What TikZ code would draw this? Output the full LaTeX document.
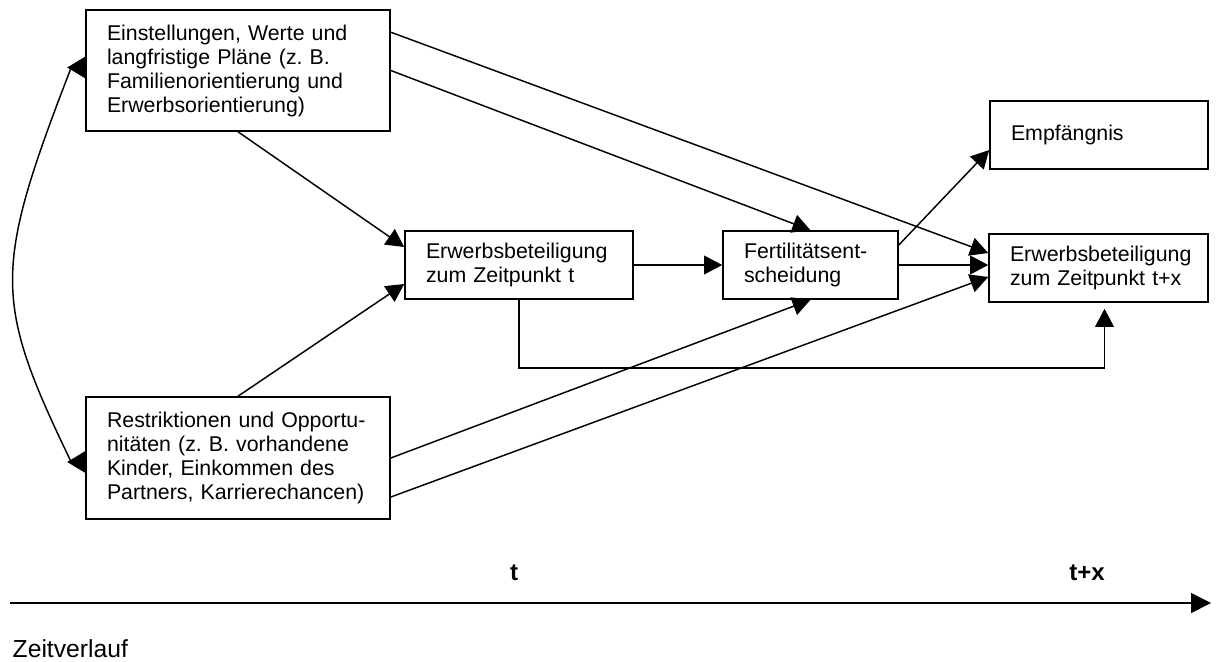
\documentclass[tikz,border=0pt]{standalone}
\usepackage{fontspec}
\setmainfont{Liberation Sans}
\usetikzlibrary{arrows.meta,calc}

\begin{document}
\begin{tikzpicture}[
    x=0.75pt, y=-0.75pt,
    line width=1.1pt,
    >={Triangle[length=13.5pt,width=14pt]},
    backtri/.tip={Triangle[reversed,length=13.5pt,width=16pt]},
    box/.style={draw, line width=1.2pt, align=left, inner xsep=15.75pt, inner ysep=0pt,
      font=\fontsize{16}{18}\selectfont},
    axislabel/.style={inner sep=0pt, font=\fontsize{18}{21}\selectfont\bfseries},
  ]
  \useasboundingbox (0,0) rectangle (1216,661);
  % boxes
  \node[box, text width=196.5pt, minimum height=90.75pt] (einst) at (238,70.5)
    {Einstellungen, Werte und\\langfristige Pläne (z.\ B.\\Familienorientierung und\\Erwerbsorientierung)};
  \node[box, text width=196.5pt, minimum height=91.5pt] (restr) at (238,458)
    {Restriktionen und Opportu-\\nitäten (z.\ B. vorhandene\\Kinder, Einkommen des\\Partners, Karrierechancen)};
  \node[box, text width=139.5pt, minimum height=51pt] (erwt) at (519,265)
    {Erwerbsbeteiligung\\zum Zeitpunkt t};
  \node[box, text width=99.75pt, minimum height=51pt] (fert) at (810.5,265)
    {Fertilitätsent-\\scheidung};
  \node[box, text width=132pt, minimum height=51pt] (empf) at (1099,135)
    {Empfängnis};
  \node[box, text width=132.75pt, minimum height=51pt] (erwtx) at (1098.5,268)
    {Erwerbsbeteiligung\\zum Zeitpunkt t+x};
  % connectors
  \draw[backtri-backtri] ($(einst.west)+(0,-3)$) -- ++(-14,0)
    .. controls (-7,270) and (-7,300) .. ($(restr.west)+(-14,4)$) -- ($(restr.west)+(0,4)$);
  \draw[->] (einst.south) -- ($(erwt.west)+(0,-18)$);
  \draw[->] (restr.north) -- ($(erwt.west)+(0,19)$);
  \draw[->] ($(einst.north east)+(0,23)$) -- ($(erwtx.west)+(0,-15)$);
  \draw[->] (einst.east) -- (fert.north);
  \draw[->] (restr.east) -- (fert.south);
  \draw[->] ($(restr.east)+(0,39)$) -- ($(erwtx.west)+(0,9)$);
  \draw[->] (erwt.east) -- (fert.west);
  \draw[->] ($(fert.east)+(0,-20)$) -- ($(empf.west)+(0,15)$);
  \draw[->] (fert.east) -- (fert.east -| erwtx.west);
  \draw[->, shorten >=4.5pt] (erwt.south) -- ++(0,68) -| ($(erwtx.south)+(6,0)$);
  % time axis
  \coordinate (zeit-start) at (10,603);
  \coordinate (zeit-end) at (1211,603);
  \draw[-{Triangle[length=15pt,width=15pt]}] (zeit-start) -- (zeit-end);
  \node[axislabel, anchor=base] (t-now) at (514,580) {t};
  \node[axislabel, anchor=base] (t-later) at (1087,580) {t+x};
  \node[inner sep=0pt, anchor=base west, font=\fontsize{18.5}{22}\selectfont] (zeit-label) at (12,657) {Zeitverlauf};
\end{tikzpicture}
\end{document}
